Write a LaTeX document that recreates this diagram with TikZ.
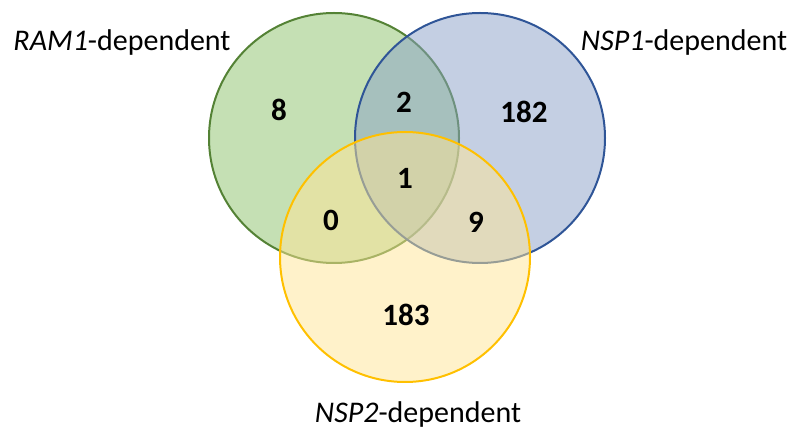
\documentclass[tikz,border=0pt]{standalone}
\usepackage{fontspec}
\setmainfont{Carlito}
\definecolor{ramfill}{RGB}{139,193,105}
\definecolor{ramline}{RGB}{84,130,53}
\definecolor{nspafill}{RGB}{137,160,200}
\definecolor{nspaline}{RGB}{47,85,151}
\definecolor{nspbfill}{RGB}{255,229,150}
\definecolor{nspbline}{RGB}{255,192,0}
\begin{document}
\begin{tikzpicture}[x=1pt,y=-1pt,
    setcircle/.style={line width=2pt,fill opacity=0.5},
    setlabel/.style={font=\fontsize{30}{32}\selectfont},
    count/.style={font=\fontsize{31}{33}\selectfont\bfseries}]
      \useasboundingbox (0,0) rectangle (793,435);
      \draw[setcircle,draw=ramline,fill=ramfill] (334,138) circle (125);
      \draw[setcircle,draw=nspaline,fill=nspafill] (480,138) circle (125);
      \draw[setcircle,draw=nspbline,fill=nspbfill] (405,257) circle (125);
      \node[setlabel] (ram) at (122,43) {\textit{RAM1}-dependent};
      \node[setlabel] (nspa) at (684,43) {\textit{NSP1}-dependent};
      \node[setlabel] (nspb) at (418,415) {\textit{NSP2}-dependent};
      \node[count] (onlyram) at (279,110) {8};
      \node[count] (ramnspa) at (404,102) {2};
      \node[count] (onlynspa) at (524,112) {182};
      \node[count] (all) at (405,178) {1};
      \node[count] (ramnspb) at (331,220) {0};
      \node[count] (nspanspb) at (476,222) {9};
      \node[count] (onlynspb) at (406,315) {183};
\end{tikzpicture}
\end{document}
